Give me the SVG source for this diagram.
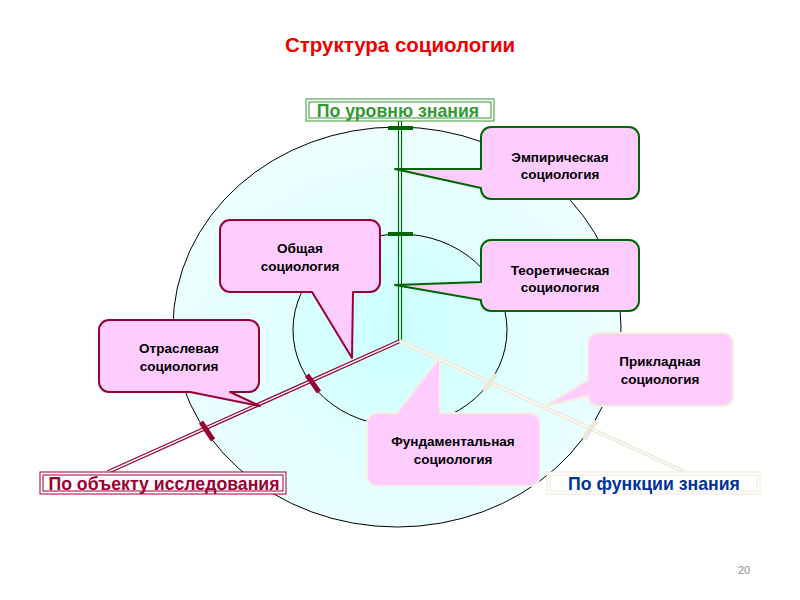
<svg xmlns="http://www.w3.org/2000/svg" width="800" height="600" viewBox="0 0 800 600">
<defs>
<radialGradient id="gOuter" cx="0.5" cy="0.55" r="0.6">
<stop offset="0" stop-color="#d6ffff"/>
<stop offset="1" stop-color="#effefe"/>
</radialGradient>
<radialGradient id="gInner" cx="0.5" cy="0.5" r="0.6">
<stop offset="0" stop-color="#ccffff"/>
<stop offset="1" stop-color="#dcffff"/>
</radialGradient>
</defs>
<style>
.t{font-family:"Liberation Sans",Arial,sans-serif;font-weight:bold;text-anchor:middle}
.bt{font-size:13.5px;fill:#000}
.lb{font-size:17.7px}
.cg{fill:#ffccff;stroke:#006600;stroke-width:2;stroke-linejoin:round}
.cm{fill:#ffccff;stroke:#990033;stroke-width:2;stroke-linejoin:round}
.cl{fill:#ffccff;stroke:#f2f0e0;stroke-width:2;stroke-linejoin:round}
</style>
<rect width="800" height="600" fill="#fff"/>
<text class="t" x="400" y="52" font-size="20.5" fill="#ee0000">Структура социологии</text>

<g id="circles">
<ellipse cx="397" cy="327" rx="224" ry="200" fill="url(#gOuter)" stroke="#000" stroke-width="1"/>
<ellipse cx="400" cy="330" rx="107" ry="96" fill="url(#gInner)" stroke="#000" stroke-width="1"/>
</g>

<g id="connectors">
<line x1="398.5" y1="121" x2="398.5" y2="341" stroke="#006600" stroke-width="1.2"/>
<line x1="401.5" y1="121" x2="401.5" y2="341" stroke="#006600" stroke-width="1.2"/>
<rect x="388" y="126" width="25" height="4" fill="#006600"/>
<rect x="388" y="232" width="25" height="4" fill="#006600"/>
<line x1="400" y1="341" x2="108" y2="472" stroke="#990033" stroke-width="4"/>
<line x1="400" y1="341" x2="108" y2="472" stroke="#fff" stroke-width="1.4"/>
<line x1="307" y1="375" x2="319" y2="392" stroke="#990033" stroke-width="5"/>
<line x1="201" y1="422" x2="213" y2="440" stroke="#990033" stroke-width="5"/>
<line x1="400" y1="341" x2="685" y2="472" stroke="#ece8d8" stroke-width="4"/>
<line x1="400" y1="341" x2="685" y2="472" stroke="#fff" stroke-width="1.2"/>
<line x1="496" y1="374" x2="484" y2="391" stroke="#ece8d8" stroke-width="5"/>
<line x1="596" y1="421" x2="584" y2="439" stroke="#ece8d8" stroke-width="5"/>
</g>

<g id="label-level">
<rect x="306" y="99" width="188" height="22" fill="#fff" stroke="#339933" stroke-width="1"/>
<rect x="309" y="102" width="182" height="16" fill="none" stroke="#339933" stroke-width="1"/>
<text class="t lb" x="398" y="116.5" fill="#339933">По уровню знания</text>
</g>

<g id="label-object">
<rect x="40" y="472" width="246" height="22" fill="#fff" stroke="#990033" stroke-width="1"/>
<rect x="43" y="475" width="240" height="16" fill="none" stroke="#990033" stroke-width="1"/>
<text class="t lb" x="164" y="489.5" fill="#990033">По объекту исследования</text>
</g>

<g id="label-function">
<rect x="547" y="472" width="213" height="22" fill="#fff" stroke="#ece8d8" stroke-width="1"/>
<rect x="550" y="475" width="207" height="16" fill="none" stroke="#ece8d8" stroke-width="1"/>
<text class="t lb" x="654" y="489.5" fill="#003399">По функции знания</text>
</g>

<g id="empirical">
<path class="cg" d="M491,127 H629 A10,10 0 0 1 639,137 V189 A10,10 0 0 1 629,199 H491 A10,10 0 0 1 481,189 V188 L395,169 H481 V137 A10,10 0 0 1 491,127 Z"/>
<text class="t bt" x="560" y="162">Эмпирическая</text>
<text class="t bt" x="560" y="179">социология</text>
</g>

<g id="theoretical">
<path class="cg" d="M491,240 H629 A10,10 0 0 1 639,250 V301 A10,10 0 0 1 629,311 H491 A10,10 0 0 1 481,301 V300 L395,285 L481,282 V250 A10,10 0 0 1 491,240 Z"/>
<text class="t bt" x="560" y="275">Теоретическая</text>
<text class="t bt" x="560" y="292">социология</text>
</g>

<g id="general">
<path class="cm" d="M230,220 H370 A10,10 0 0 1 380,230 V282 A10,10 0 0 1 370,292 H353 L352,358 L312,292 H230 A10,10 0 0 1 220,282 V230 A10,10 0 0 1 230,220 Z"/>
<text class="t bt" x="300" y="253">Общая</text>
<text class="t bt" x="300" y="271">социология</text>
</g>

<g id="branch">
<path class="cm" d="M109,320 H249 A10,10 0 0 1 259,330 V382 A10,10 0 0 1 249,392 H230 L260,406 L190,392 H109 A10,10 0 0 1 99,382 V330 A10,10 0 0 1 109,320 Z"/>
<text class="t bt" x="179" y="353">Отраслевая</text>
<text class="t bt" x="179" y="371">социология</text>
</g>

<g id="applied">
<path class="cl" d="M598,333 H723 A10,10 0 0 1 733,343 V396 A10,10 0 0 1 723,406 H598 A10,10 0 0 1 588,396 L543,407 L588,380 V343 A10,10 0 0 1 598,333 Z"/>
<text class="t bt" x="660" y="366">Прикладная</text>
<text class="t bt" x="660" y="384">социология</text>
</g>

<g id="fundamental">
<path class="cl" d="M377,413 H397 L440,357 V413 H530 A10,10 0 0 1 540,423 V476 A10,10 0 0 1 530,486 H377 A10,10 0 0 1 367,476 V423 A10,10 0 0 1 377,413 Z"/>
<text class="t bt" x="453" y="446">Фундаментальная</text>
<text class="t bt" x="453" y="464">социология</text>
</g>

<text x="744" y="574" font-family="Liberation Sans,Arial,sans-serif" font-size="11" fill="#8c8c8c" text-anchor="middle">20</text>
</svg>
